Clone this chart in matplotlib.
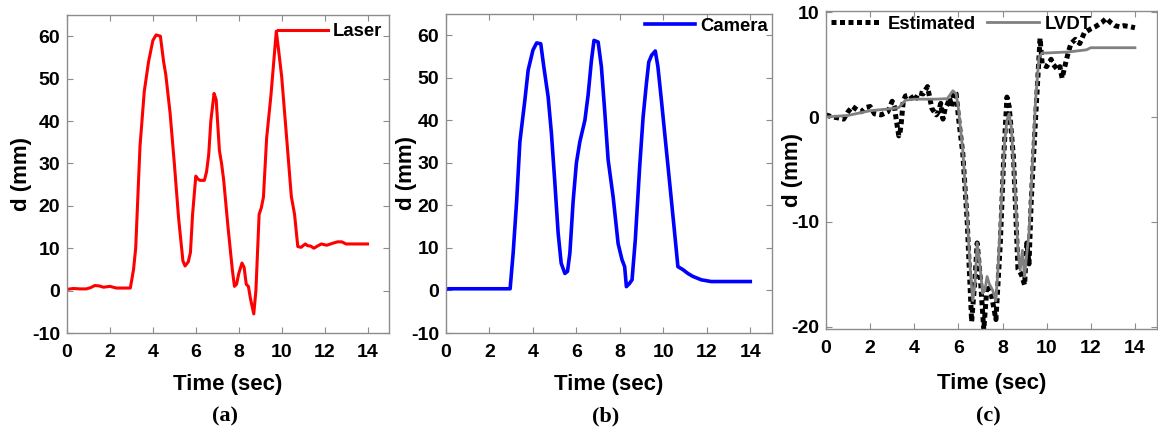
import matplotlib
matplotlib.use("Agg")
import matplotlib.pyplot as plt
import numpy as np

plt.rcParams['font.family'] = ['Liberation Sans', 'DejaVu Sans']
plt.rcParams['axes.unicode_minus'] = False

# ---------------- data ----------------
laser_t = [0.0, 0.3, 0.6, 0.9, 1.1, 1.3, 1.5, 1.7, 2.0, 2.3, 2.6, 2.95,
           3.1, 3.2, 3.4, 3.6, 3.8, 4.0, 4.15, 4.35, 4.5, 4.6, 4.8, 5.0, 5.2,
           5.4, 5.5, 5.65, 5.75, 5.85, 5.95, 6.0, 6.1, 6.2, 6.4, 6.5, 6.6,
           6.7, 6.85, 6.95, 7.1, 7.2, 7.3, 7.5, 7.7, 7.8, 7.9, 8.0, 8.15,
           8.25, 8.35, 8.45, 8.55, 8.7, 8.8, 8.95, 9.05, 9.15, 9.3, 9.5,
           9.75, 9.85, 10.0, 10.2, 10.45, 10.6, 10.75, 10.9, 11.1, 11.2,
           11.35, 11.5, 11.7, 11.85, 12.1, 12.4, 12.6, 12.8, 13.0, 13.5, 14.0]
laser_d = [0.3, 0.5, 0.4, 0.4, 0.7, 1.2, 1.1, 0.8, 1.0, 0.6, 0.6, 0.6,
           5.0, 10.0, 34.0, 47.0, 54.0, 59.0, 60.3, 60.0, 54.0, 51.0, 42.0,
           30.0, 17.0, 7.0, 5.8, 6.8, 9.0, 18.0, 24.0, 27.0, 26.3, 26.0,
           26.0, 28.0, 32.0, 40.0, 46.5, 45.0, 33.0, 30.0, 26.0, 15.0, 5.0,
           1.0, 1.5, 4.0, 6.5, 5.5, 1.5, 1.0, -2.0, -5.5, 0.0, 18.0, 19.5,
           22.0, 36.0, 46.0, 61.2, 57.0, 50.5, 38.0, 22.2, 18.0, 10.4,
           10.2, 11.0, 10.6, 10.5, 10.0, 10.6, 11.0, 10.7, 11.2, 11.5, 11.5,
           11.0, 11.0, 11.0]

camera_t = [0.0, 0.1, 1.0, 2.0, 2.95, 3.09, 3.25, 3.4, 3.63, 3.78, 4.0,
            4.17, 4.36, 4.5, 4.7, 4.85, 5.0, 5.16, 5.3, 5.47, 5.59, 5.7,
            5.85, 6.0, 6.16, 6.39, 6.54, 6.69, 6.81, 7.0, 7.15, 7.3, 7.46,
            7.69, 7.92, 8.1, 8.22, 8.3, 8.45, 8.56, 8.71, 8.91, 9.07, 9.22,
            9.33, 9.46, 9.63, 9.75, 9.91, 10.14, 10.34, 10.52, 10.67, 10.9,
            11.13, 11.36, 11.75, 12.2, 12.66, 14.0]
camera_d = [0.2, 0.4, 0.4, 0.4, 0.4, 8.8, 21.0, 35.0, 44.8, 51.8, 56.5,
            58.2, 58.0, 52.6, 45.5, 37.0, 26.0, 13.5, 6.4, 4.0, 4.5, 8.8,
            21.0, 30.0, 35.0, 40.0, 46.0, 54.0, 58.8, 58.4, 52.6, 42.4, 30.7,
            22.0, 11.0, 7.2, 5.6, 0.9, 1.7, 2.5, 11.9, 29.0, 40.8, 48.6,
            53.7, 55.3, 56.3, 52.6, 44.8, 33.0, 22.8, 13.5, 5.6, 4.9, 4.0,
            3.3, 2.5, 2.1, 2.1, 2.1]

lvdt_t = [0.0, 1.0, 2.0, 3.0, 3.3, 3.6, 4.0, 5.0, 5.5, 5.75, 5.9, 6.0,
          6.2, 6.4, 6.55, 6.65, 6.75, 6.85, 6.95, 7.1, 7.2, 7.3, 7.4, 7.55,
          7.7, 7.8, 7.95, 8.1, 8.2, 8.3, 8.4, 8.55, 8.7, 8.8, 8.9, 9.0, 9.1,
          9.2, 9.35, 9.5, 9.65, 9.8, 10.0, 11.0, 11.8, 12.0, 14.0]
lvdt_d = [0.0, 0.15, 0.6, 0.8, 0.9, 1.6, 1.7, 1.7, 1.75, 2.5, 2.2, 0.8,
          -3.2, -9.5, -15.0, -17.5, -15.9, -12.0, -13.6, -16.8, -16.5,
          -15.2, -15.9, -16.5, -17.5, -14.3, -8.0, -2.2, -0.3, 0.3, -1.0,
          -6.3, -12.7, -14.6, -12.7, -15.2, -13.0, -11.1, -4.8, 1.6, 5.7,
          6.1, 6.1, 6.2, 6.4, 6.6, 6.6]

est_t = [0.0, 0.3, 0.6, 0.8, 1.0, 1.2, 1.4, 1.6, 1.8, 2.0, 2.2, 2.5, 2.8,
         3.0, 3.1, 3.2, 3.3, 3.35, 3.4, 3.5, 3.6, 3.8, 4.0, 4.2, 4.4, 4.6,
         4.8, 5.0, 5.1, 5.2, 5.3, 5.4, 5.5, 5.6, 5.7, 5.8, 5.9, 6.0, 6.2,
         6.4, 6.6, 6.75, 6.85, 7.0, 7.15, 7.3, 7.5, 7.7, 7.9, 8.05, 8.2,
         8.3, 8.35, 8.5, 8.7, 8.85, 9.0, 9.1, 9.2, 9.3, 9.5, 9.7, 9.8,
         10.0, 10.2, 10.3, 10.5, 10.6, 10.7, 10.9, 11.0, 11.1, 11.3, 11.5,
         11.7, 12.0, 12.2, 12.5, 12.7, 12.9, 13.1, 13.3, 13.5, 13.8, 14.0]
est_d = [0.2, 0.0, -0.1, -0.2, 0.5, 1.0, 0.7, 0.5, 0.9, 1.0, 0.3, 0.2, 0.5,
         1.5, 1.0, -0.5, -1.8, -1.5, -0.8, 1.5, 2.0, 2.1, 1.5, 2.3, 2.2, 2.9,
         0.8, 0.2, 0.5, 1.3, -0.2, 0.8, 1.2, 1.8, 1.0, 2.4, 2.2, 0.0, -3.5,
         -10.0, -19.5, -15.5, -12.0, -15.5, -20.3, -16.0, -17.0, -19.3,
         -12.0, -4.0, 1.9, 1.0, -0.2, -4.0, -14.5, -15.0, -16.0, -12.0,
         -14.0, -8.0, 0.0, 7.5, 5.0, 4.8, 5.5, 5.0, 4.5, 4.8, 3.7, 5.5,
         6.3, 7.0, 7.4, 7.0, 8.0, 8.4, 8.6, 9.0, 9.4, 9.0, 8.7, 8.6, 8.7,
         8.6, 8.5]

x_ticks = [0, 2, 4, 6, 8, 10, 12, 14]
y_ticks_ab = [-10, 0, 10, 20, 30, 40, 50, 60]
y_ticks_c = [-20, -10, 0, 10]
panel_labels = ['(a)', '(b)', '(c)']

# ---------------- figure ----------------
W, H = 1158, 432
fig = plt.figure(figsize=(W / 100, H / 100), dpi=100)

def box(l, r, t, b):
    return [l / W, 1 - b / H, (r - l) / W, (b - t) / H]

ax_a = fig.add_axes(box(67, 389, 15, 333))
ax_b = fig.add_axes(box(446, 772, 14, 333))
ax_c = fig.add_axes(box(826, 1157, 11, 329))

spine_col = '#8c8c8c'
tick_fs = 14
label_fs = 16
leg_prop = {'weight': 'bold', 'size': 13.3}

def style(ax, yticks, ylim, ylab_x, xlab_y):
    ax.set_xlim(0, 15)
    ax.set_ylim(*ylim)
    ax.set_xticks(x_ticks)
    ax.set_yticks(yticks)
    ax.tick_params(direction='in', length=4, width=0.8, color=spine_col,
                   top=True, right=True, labelsize=tick_fs)
    ax.tick_params(axis='x', pad=8)
    ax.tick_params(axis='y', pad=5)
    for lab in ax.get_xticklabels() + ax.get_yticklabels():
        lab.set_fontweight('bold')
    for s in ax.spines.values():
        s.set_color(spine_col)
        s.set_linewidth(1.0)
    ax.set_xlabel('Time (sec)', fontsize=label_fs, fontweight='bold')
    ax.set_ylabel('d (mm)', fontsize=label_fs, fontweight='bold')
    ax.yaxis.set_label_coords(ylab_x, 0.5)
    ax.xaxis.set_label_coords(0.5, xlab_y)

ax_a.plot(laser_t, laser_d, color='#ff0000', lw=2.2, label='Laser')
style(ax_a, y_ticks_ab, (-10, 65), -0.109, -0.13)
ax_a.legend(loc='upper right', frameon=False, prop=leg_prop,
            handlelength=2.7, handletextpad=0.3, borderaxespad=0.05,
            borderpad=0.3, bbox_to_anchor=(1.0, 0.995))

ax_b.plot(camera_t, camera_d, color='#0000ff', lw=2.6, label='Camera')
style(ax_b, y_ticks_ab, (-10, 65), -0.089, -0.13)
ax_b.legend(loc='upper right', frameon=False, prop=leg_prop,
            handlelength=2.7, handletextpad=0.3, borderaxespad=0.05,
            borderpad=0.15)

ax_c.plot(est_t, est_d, color='black', lw=3.6, linestyle=(0, (1.0, 0.7)),
          dash_capstyle='butt', label='Estimated')
ax_c.plot(lvdt_t, lvdt_d, color='#808080', lw=2.0, label='LVDT')
style(ax_c, y_ticks_c, (-20.2, 10.1), -0.07, -0.138)
ax_c.legend(loc='upper left', frameon=False, ncol=2, prop=leg_prop,
            handlelength=2.8, handletextpad=0.3, columnspacing=0.6,
            borderaxespad=0.05, borderpad=0.2)

for ax, lab in zip([ax_a, ax_b, ax_c], panel_labels):
    pos = ax.get_position()
    fig.text(pos.x0 + pos.width / 2 - 3 / W, 1 - 416 / H, lab, ha='center',
             va='center', fontsize=16, fontweight='bold',
             family='Liberation Serif')

fig.savefig('out.png', dpi=100)
